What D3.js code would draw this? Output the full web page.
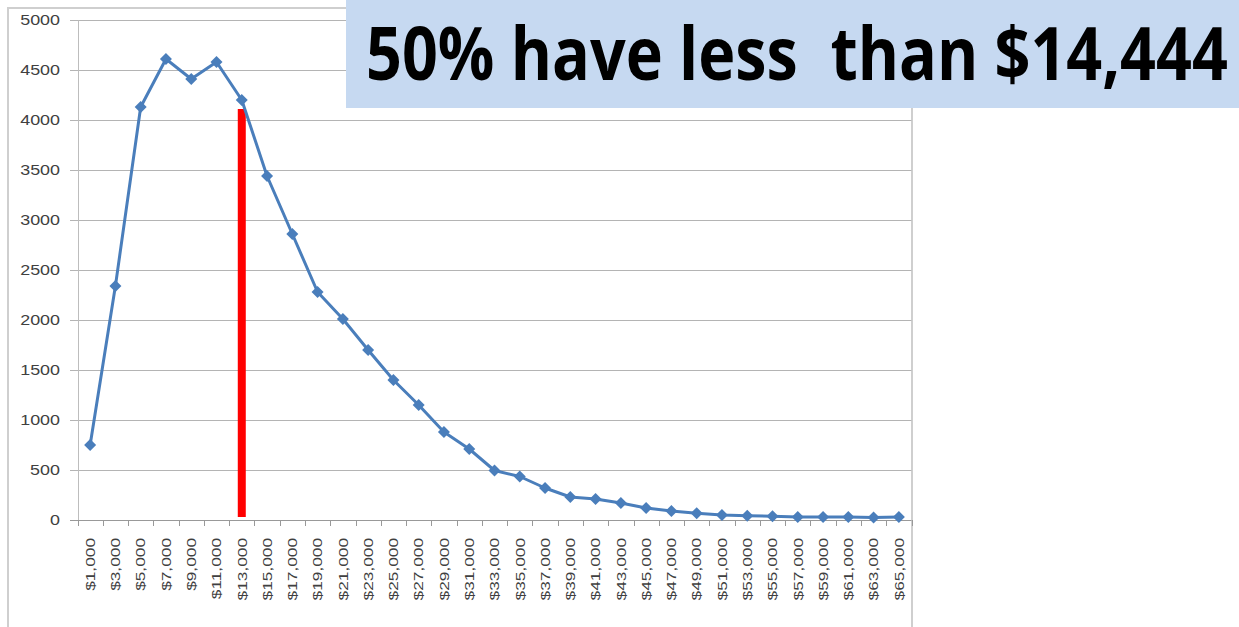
<!DOCTYPE html>
<html>
<head>
<meta charset="utf-8">
<script src="https://cdn.jsdelivr.net/npm/d3@7"></script>
<style>
  html, body { margin: 0; padding: 0; background: #fff; }
  svg { display: block; }
</style>
</head>
<body>
<svg id="chart" width="1239" height="627"></svg>
<script>
// Income brackets (category labels on the x axis)
const incomeBrackets = [
  "$1,000", "$3,000", "$5,000", "$7,000", "$9,000", "$11,000", "$13,000",
  "$15,000", "$17,000", "$19,000", "$21,000", "$23,000", "$25,000", "$27,000",
  "$29,000", "$31,000", "$33,000", "$35,000", "$37,000", "$39,000", "$41,000",
  "$43,000", "$45,000", "$47,000", "$49,000", "$51,000", "$53,000", "$55,000",
  "$57,000", "$59,000", "$61,000", "$63,000", "$65,000"
];

// Number of people in each bracket
const peopleCount = [
  750, 2340, 4130, 4610, 4410, 4580, 4200,
  3440, 2860, 2280, 2010, 1700, 1400, 1150,
  880, 710, 495, 435, 320, 230, 210,
  170, 120, 90, 68, 50, 42, 38,
  30, 30, 30, 25, 30
];

// Y axis tick values
const yTicks = [0, 500, 1000, 1500, 2000, 2500, 3000, 3500, 4000, 4500, 5000];

// Median marker: bracket it sits on and its vertical extent
const medianBracket = "$13,000";
const medianTop = 4110;
const medianBottom = 30;

// Callout text
const calloutText = "50% have less  than $14,444";

const labelFont = "'Liberation Sans', Arial, sans-serif";
const labelStretch = 1.28;

const svg = d3.select("#chart");

const x = d3.scaleBand().domain(incomeBrackets).range([77.5, 911.5]).padding(0);
const y = d3.scaleLinear().domain([0, 5000]).range([520, 20]);

// Chart frame
svg.append("rect")
  .attr("x", 8).attr("y", 8)
  .attr("width", 904).attr("height", 640)
  .attr("fill", "#fff")
  .attr("stroke", "#cfcfcf")
  .attr("stroke-width", 2);

// Horizontal gridlines (extending left as tick marks)
svg.append("g")
  .selectAll("line")
  .data(yTicks.filter(d => d > 0))
  .join("line")
  .attr("x1", 70).attr("x2", 911.5)
  .attr("y1", d => Math.round(y(d)) + 0.5)
  .attr("y2", d => Math.round(y(d)) + 0.5)
  .attr("stroke", "#b4b4b4")
  .attr("stroke-width", 1);

// Y axis
const yAxis = d3.axisLeft(y)
  .tickValues(yTicks)
  .tickSize(8)
  .tickPadding(10)
  .tickFormat(d3.format("d"));

const yg = svg.append("g")
  .attr("transform", "translate(78,0)")
  .call(yAxis);
yg.select(".domain").attr("stroke", "#bdbdbd");
yg.selectAll(".tick line").attr("stroke", "#b4b4b4");
yg.selectAll(".tick text")
  .attr("x", 0)
  .attr("transform", `translate(-18,0) scale(${labelStretch},1)`)
  .attr("fill", "#404040")
  .style("font-family", labelFont)
  .style("font-size", "14px");

// X axis line
svg.append("line")
  .attr("x1", 70).attr("x2", 911.5)
  .attr("y1", y(0) + 0.5).attr("y2", y(0) + 0.5)
  .attr("stroke", "#999")
  .attr("stroke-width", 1);

// X tick marks at bracket boundaries
const boundaries = incomeBrackets.map(d => x(d)).concat([x.range()[1]]);
svg.append("g")
  .selectAll("line")
  .data(boundaries)
  .join("line")
  .attr("x1", d => Math.round(d) + 0.5)
  .attr("x2", d => Math.round(d) + 0.5)
  .attr("y1", y(0)).attr("y2", y(0) + 6)
  .attr("stroke", "#999");

// X tick labels, rotated
svg.append("g")
  .selectAll("text")
  .data(incomeBrackets)
  .join("text")
  .attr("transform", d => `translate(${x(d) + x.bandwidth() / 2},538) rotate(-90) scale(${labelStretch},1)`)
  .attr("text-anchor", "end")
  .attr("dy", "0.35em")
  .attr("fill", "#404040")
  .style("font-family", labelFont)
  .style("font-size", "13.5px")
  .text(d => d);

// Median marker
svg.append("rect")
  .attr("x", x(medianBracket) + x.bandwidth() / 2 - 4)
  .attr("width", 8)
  .attr("y", y(medianTop))
  .attr("height", y(medianBottom) - y(medianTop))
  .attr("fill", "#ff0000");

// Distribution line
const series = incomeBrackets.map((b, i) => ({ bracket: b, value: peopleCount[i] }));
const line = d3.line()
  .x(d => x(d.bracket) + x.bandwidth() / 2)
  .y(d => y(d.value));

svg.append("path")
  .datum(series)
  .attr("d", line)
  .attr("fill", "none")
  .attr("stroke", "#4a7ebb")
  .attr("stroke-width", 3)
  .attr("stroke-linejoin", "round");

// Diamond markers
svg.append("g")
  .selectAll("path")
  .data(series)
  .join("path")
  .attr("transform", d => `translate(${x(d.bracket) + x.bandwidth() / 2},${y(d.value)})`)
  .attr("d", "M0,-6L6,0L0,6L-6,0Z")
  .attr("fill", "#4a7ebb");

// Callout box
svg.append("rect")
  .attr("x", 346).attr("y", 0)
  .attr("width", 893).attr("height", 108)
  .attr("fill", "#c6d9f1");

// Callout text, condensed horizontally to fit the box
const callout = svg.append("text")
  .attr("x", 0).attr("y", 0)
  .style("white-space", "pre")
  .style("font-family", "'Open Sans', 'Noto Sans', sans-serif")
  .style("font-weight", "bold")
  .style("font-size", "74px")
  .attr("fill", "#000")
  .text(calloutText);
const naturalWidth = callout.node().getComputedTextLength();
const squeeze = 862 / naturalWidth;
callout.attr("transform", `translate(366,80) scale(${squeeze},1)`);
</script>
</body>
</html>
